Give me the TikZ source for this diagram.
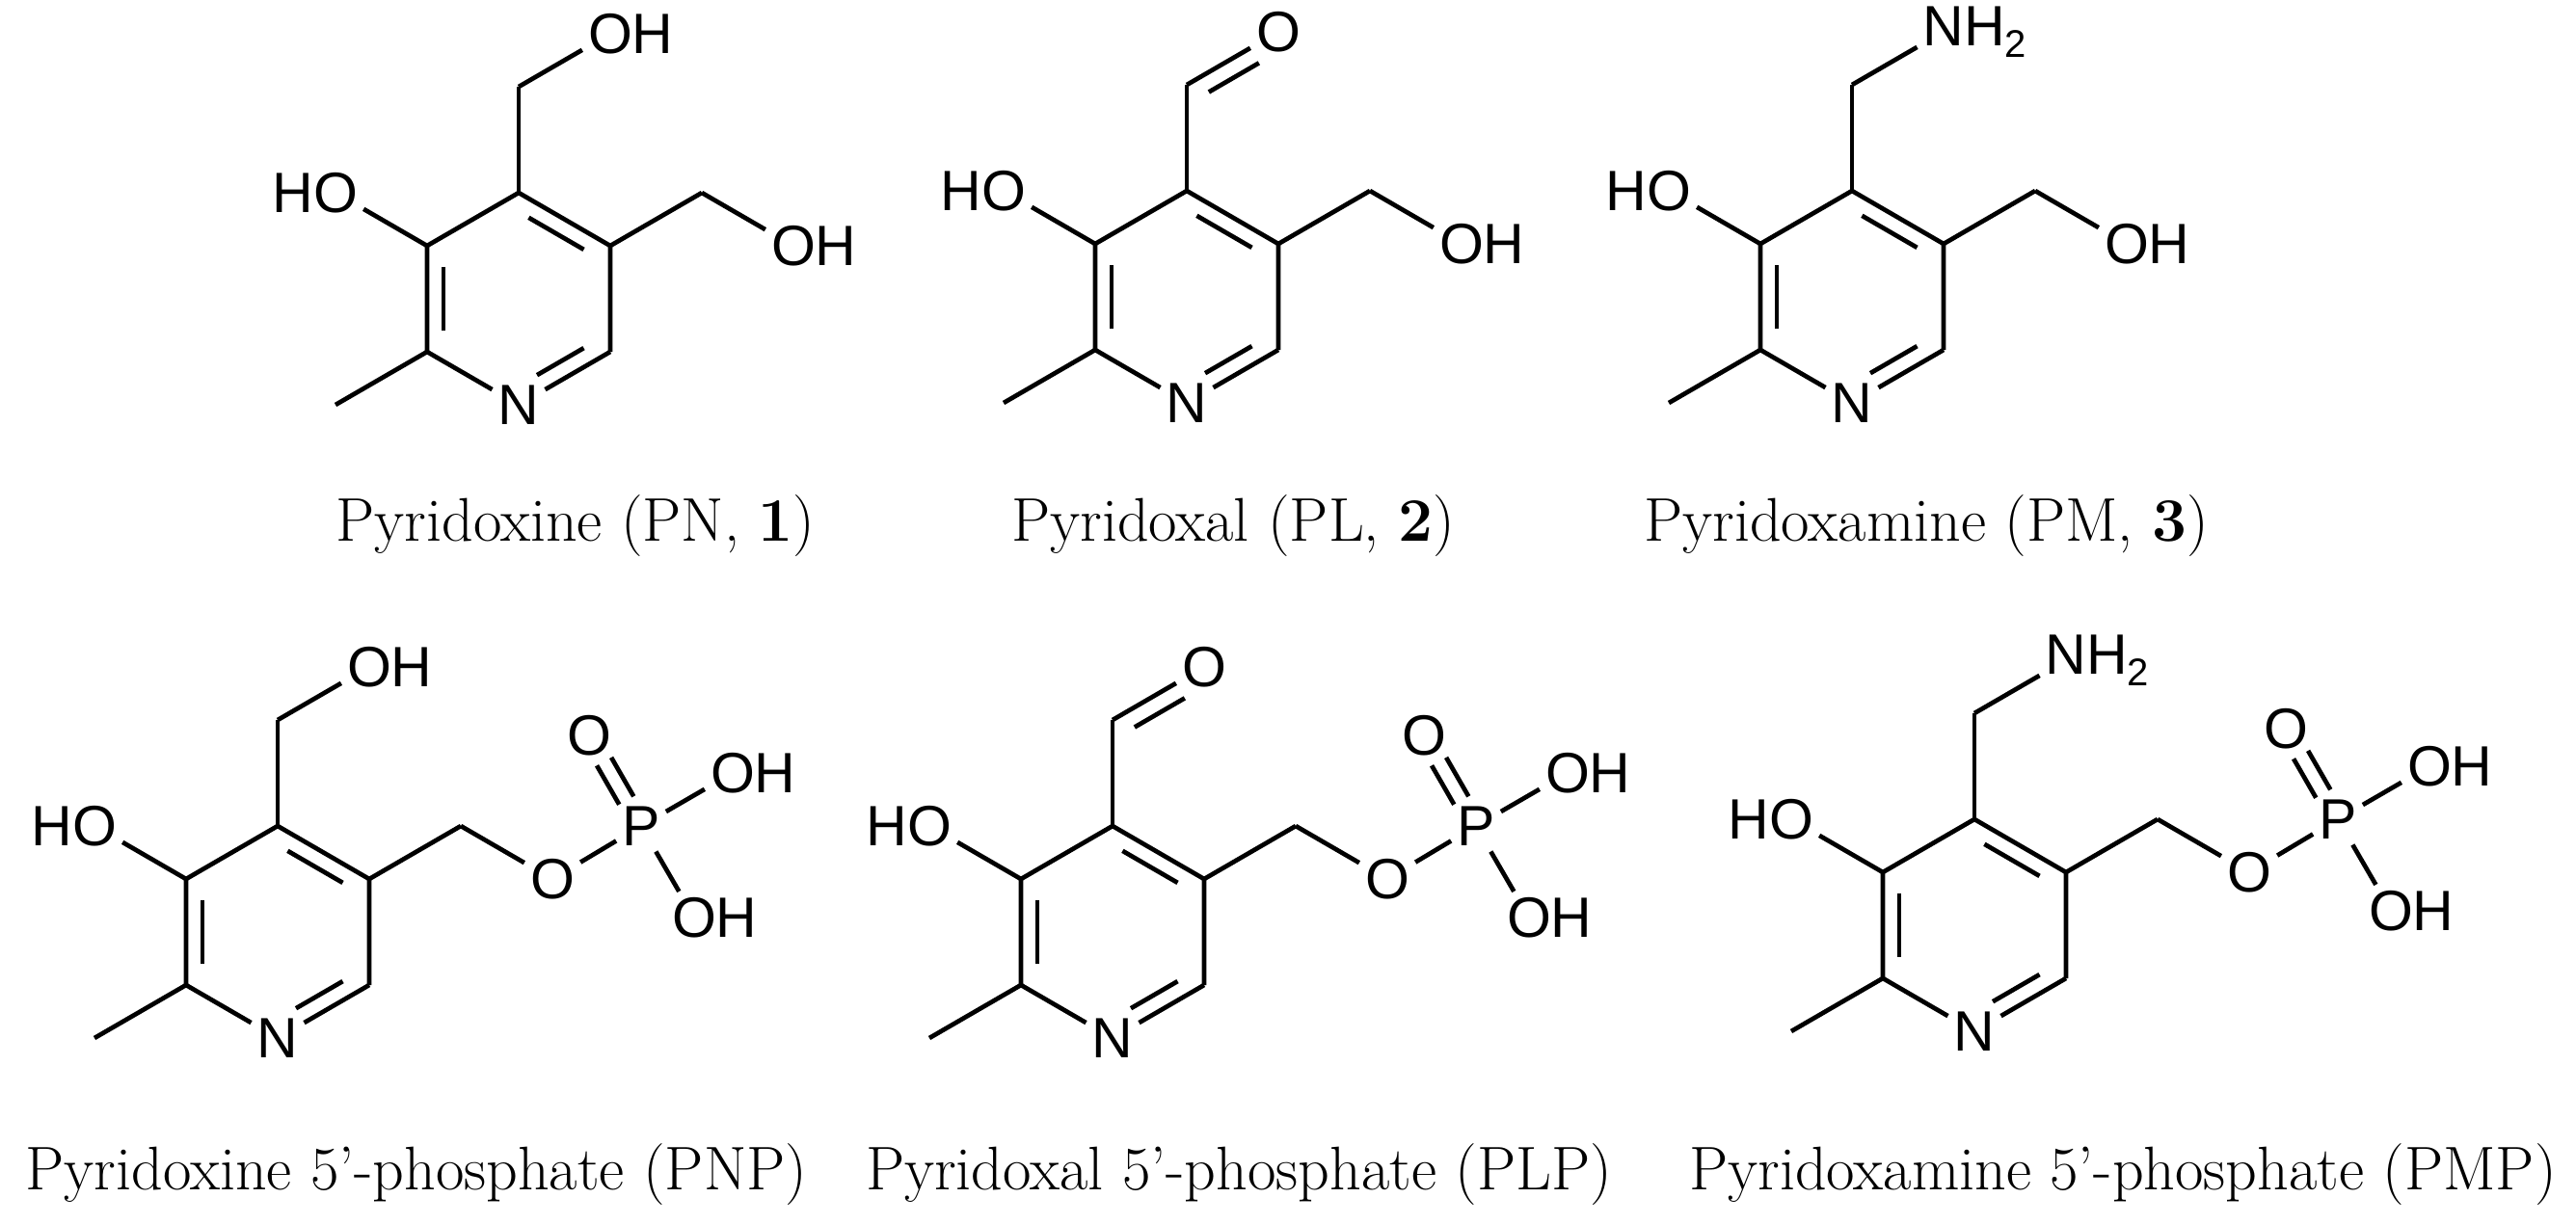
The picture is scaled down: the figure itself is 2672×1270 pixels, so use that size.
\documentclass[tikz,border=0pt]{standalone}
\usepackage{fontspec}
\newfontfamily\lab{Liberation Sans}
\usetikzlibrary{calc}
\tikzset{
  bond/.style={line width=4.7pt},
  atom/.style={font=\lab\fontsize{59}{61}\selectfont, inner sep=6pt},
  caption/.style={font=\fontsize{64}{68}\selectfont, anchor=base, inner sep=0pt}
}
\newcommand\ring[2]{%
  \coordinate (#1c4) at #2;
  \coordinate (#1c3) at ($(#1c4)+(-95,55)$);
  \coordinate (#1c5) at ($(#1c4)+(95,55)$);
  \coordinate (#1c2) at ($(#1c4)+(-95,165)$);
  \coordinate (#1c6) at ($(#1c4)+(95,165)$);
  \coordinate (#1ctr) at ($(#1c4)+(0,110)$);
  \node[atom] (#1n) at ($(#1c4)+(0,220)$) {N};
  \node[atom] (#1ho) at ($(#1c4)+(-190,0)$) {\llap{H}O};
  \coordinate (#1me) at ($(#1c4)+(-190,220)$);
  \draw[bond] (#1c4)--(#1c3)--(#1c2);
  \draw[bond] (#1c2)--(#1n);
  \draw[bond] (#1n)--(#1c6);
  \draw[bond] (#1c6)--(#1c5)--(#1c4);
  \draw[bond] (#1c3)--(#1ho);
  \draw[bond] (#1c2)--(#1me);
  \draw[bond, shorten <=12pt, shorten >=12pt] ($(#1c3)!0.18!(#1ctr)$)--($(#1c2)!0.18!(#1ctr)$);
  \draw[bond, shorten <=12pt, shorten >=12pt] ($(#1c4)!0.18!(#1ctr)$)--($(#1c5)!0.18!(#1ctr)$);
  \draw[bond, shorten <=22pt, shorten >=12pt] ($(#1n)!0.18!(#1ctr)$)--($(#1c6)!0.18!(#1ctr)$);
  \coordinate (#1t) at ($(#1c4)+(0,-110)$);
  \coordinate (#1r) at ($(#1c4)+(190,0)$);
  \draw[bond] (#1c4)--(#1t);
  \draw[bond] (#1c5)--(#1r);
}
\newcommand\topoh[1]{%
  \node[atom] (#1to) at ($(#1c4)+(95,-165)$) {O\rlap{H}};
  \draw[bond] (#1t)--(#1to);}
\newcommand\topcho[1]{%
  \node[atom] (#1to) at ($(#1c4)+(95,-165)$) {O};
  \draw[bond] (#1t)--(#1to);
  \draw[bond, shorten <=16pt, transform canvas={shift={(9pt,-15.5pt)}}] (#1t)--(#1to);}
\newcommand\topnh[1]{%
  \node[atom] (#1to) at ($(#1c4)+(95,-165)$) {N\rlap{H\raisebox{-12pt}{\fontsize{40}{40}\selectfont 2}}};
  \draw[bond] (#1t)--(#1to);}
\newcommand\rightoh[1]{%
  \node[atom] (#1ro) at ($(#1c4)+(285,55)$) {O\rlap{H}};
  \draw[bond] (#1r)--(#1ro);}
\newcommand\phos[1]{%
  \node[atom] (#1eo) at ($(#1c4)+(285,55)$) {O};
  \node[atom] (#1p) at ($(#1c4)+(377,0)$) {P};
  \node[atom] (#1do) at ($(#1p)+(-54,-94)$) {O};
  \node[atom] (#1uo) at ($(#1p)+(95,-55)$) {O\rlap{H}};
  \node[atom] (#1lo) at ($(#1p)+(55,95)$) {O\rlap{H}};
  \draw[bond] (#1r)--(#1eo);
  \draw[bond] (#1eo)--(#1p);
  \draw[bond] (#1p)--(#1uo);
  \draw[bond] (#1p)--(#1lo);
  \draw[bond, transform canvas={shift={(7.5pt,4.2pt)}}] (#1p)--(#1do);
  \draw[bond, transform canvas={shift={(-7.5pt,-4.2pt)}}] (#1p)--(#1do);}
\begin{document}
\begin{tikzpicture}[x=1pt,y=-1pt]
\useasboundingbox (0,0) rectangle (2672,1270);
\ring{a}{(538,200)}\topoh{a}\rightoh{a}
\ring{b}{(1231,198)}\topcho{b}\rightoh{b}
\ring{c}{(1921,198)}\topnh{c}\rightoh{c}
\ring{d}{(288,857)}\topoh{d}\phos{d}
\ring{e}{(1154,857)}\topcho{e}\phos{e}
\ring{f}{(2048,850)}\topnh{f}\phos{f}
\node[caption] (ca) at (597,561) {Pyridoxine (PN, \textbf{1})};
\node[caption] (cb) at (1279,561) {Pyridoxal (PL, \textbf{2})};
\node[caption] (cc) at (1998,561) {Pyridoxamine (PM, \textbf{3})};
\node[caption] (cd) at (432,1234) {Pyridoxine 5'-phosphate (PNP)};
\node[caption] (ce) at (1285,1234) {Pyridoxal 5'-phosphate (PLP)};
\node[caption] (cf) at (2202,1234) {Pyridoxamine 5'-phosphate (PMP)};
\end{tikzpicture}
\end{document}
